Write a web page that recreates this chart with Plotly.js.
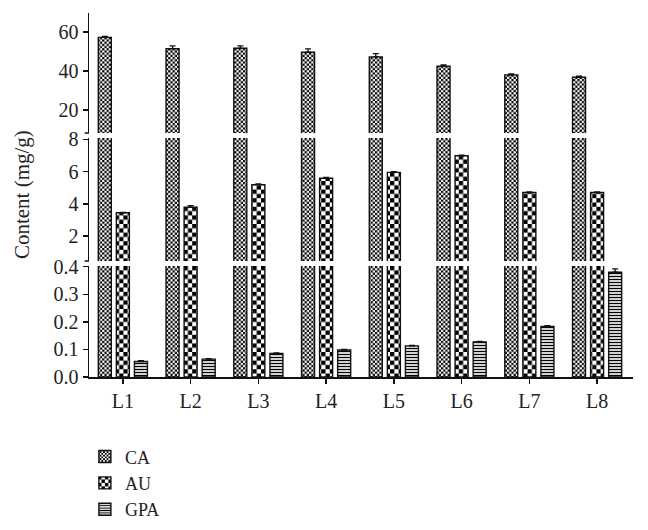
<!DOCTYPE html>
<html><head><meta charset="utf-8">
<script src="https://cdn.plot.ly/plotly-3.0.1.min.js"></script>
<style>html,body{margin:0;padding:0;background:#fff}</style>
</head><body><div id="chart" style="width:648px;height:530px"></div>
<script>
const categories = ['L1','L2','L3','L4','L5','L6','L7','L8'];
const caValues  = [57.2, 51.4, 51.6, 49.6, 47.2, 42.4, 38.0, 36.8];
const caErrors  = [0.5, 1.5, 1.3, 1.7, 1.7, 0.7, 0.5, 0.5];
const auValues  = [3.44, 3.78, 5.19, 5.58, 5.95, 6.98, 4.70, 4.70];
const auErrors  = [0.03, 0.10, 0.05, 0.05, 0.05, 0.04, 0.04, 0.04];
const gpaValues = [0.056, 0.065, 0.085, 0.098, 0.113, 0.127, 0.183, 0.380];
const gpaErrors = [0.003, 0.002, 0.002, 0.002, 0.002, 0.002, 0.003, 0.012];
const seriesNames = ['CA', 'AU', 'GPA'];
const topTicks = [20, 40, 60];
const midTicks = [2, 4, 6, 8];
const botTicks = [0, 0.1, 0.2, 0.3, 0.4];

const series = [
  {name: seriesNames[0], y: caValues, err: caErrors, errAxis: 'y3',
   pattern: {shape: '+', size: 4.4, solidity: 0.5, fgcolor: '#000', bgcolor: '#fff'}},
  {name: seriesNames[1], y: auValues, err: auErrors, errAxis: 'y2',
   pattern: {shape: '+', size: 8.6, solidity: 0.5, fgcolor: '#000', bgcolor: '#fff'}},
  {name: seriesNames[2], y: gpaValues, err: gpaErrors, errAxis: 'y',
   pattern: {shape: '-', size: 3, solidity: 0.45, fgcolor: '#000', bgcolor: '#fff'}}
];
const axesList = ['y', 'y2', 'y3'];
const traces = [];
series.forEach((s, si) => {
  axesList.forEach((ax, ai) => {
    const t = {
      type: 'bar', x: categories, y: s.y, name: s.name,
      xaxis: 'x', yaxis: ax,
      legendgroup: s.name, showlegend: ai === 0,
      marker: {color: '#fff', line: {color: '#111', width: 1.4}, pattern: s.pattern},
      hoverinfo: 'skip'
    };
    if (ax === s.errAxis) {
      t.error_y = {type: 'data', array: s.err, arrayminus: s.err.map(() => 0), symmetric: false,
        visible: true, color: '#111', thickness: 1.3, width: 3};
    }
    traces.push(t);
  });
});

const serif = 'Liberation Serif, DejaVu Serif, serif';
const tickFont = {family: serif, size: 20, color: '#222'};
const yCommon = {showline: true, linecolor: '#111', linewidth: 1.5, ticks: 'outside', ticklen: 5,
  tickwidth: 1.5, tickcolor: '#111', showgrid: false, zeroline: false, tickfont: tickFont,
  anchor: 'x', fixedrange: true};

const layout = {
  width: 648, height: 530,
  margin: {l: 89, r: 15, t: 13, b: 153, autoexpand: false},
  paper_bgcolor: '#fff', plot_bgcolor: '#fff',
  barmode: 'group', bargap: 0.2, bargroupgap: 0.28,
  showlegend: true,
  legend: {xref: 'container', yref: 'container', x: 0.131, y: 0.173, xanchor: 'left', yanchor: 'top',
    orientation: 'v', font: {family: serif, size: 18, color: '#222'}, traceorder: 'normal',
    itemwidth: 30, tracegroupgap: 0},
  xaxis: {range: [-0.5, 7.53], showline: true, linecolor: '#111', linewidth: 1.5,
    ticks: 'outside', ticklen: 5, tickwidth: 1.5, tickcolor: '#111', tickfont: tickFont,
    anchor: 'y', showgrid: false, zeroline: false, fixedrange: true},
  yaxis: Object.assign({}, yCommon, {domain: [0, 0.3049], range: [0, 0.4025],
    tickvals: botTicks, tickformat: '.1f'}),
  yaxis2: Object.assign({}, yCommon, {domain: [0.3187, 0.6566], range: [0.45, 8.08],
    tickvals: midTicks}),
  yaxis3: Object.assign({}, yCommon, {domain: [0.6703, 1], range: [8.2, 69.7],
    tickvals: topTicks}),
  annotations: [{text: 'Content (mg/g)', xref: 'paper', yref: 'paper', x: -0.123, y: 0.5,
    xanchor: 'center', yanchor: 'middle', textangle: -90, showarrow: false,
    font: {family: serif, size: 21, color: '#222'}}],
  shapes: [
    {type: 'line', xref: 'paper', yref: 'paper', x0: -0.008, x1: 0, y0: 0.6703, y1: 0.6703,
     line: {color: '#111', width: 1.5}},
    {type: 'line', xref: 'paper', yref: 'paper', x0: -0.008, x1: 0, y0: 0.3187, y1: 0.3187,
     line: {color: '#111', width: 1.5}}
  ]
};

function checkerize() {
  const ns = 'http://www.w3.org/2000/svg';
  document.querySelectorAll('#chart pattern').forEach(p => {
    const w = parseFloat(p.getAttribute('width'));
    const h = parseFloat(p.getAttribute('height'));
    if (!(w > 3.5)) return;
    while (p.firstChild) p.removeChild(p.firstChild);
    const mk = (x, y, ww, hh, fill) => {
      const r = document.createElementNS(ns, 'rect');
      r.setAttribute('x', x); r.setAttribute('y', y);
      r.setAttribute('width', ww); r.setAttribute('height', hh);
      r.setAttribute('fill', fill);
      p.appendChild(r);
    };
    mk(0, 0, w, h, '#fff');
    mk(0, 0, w / 2, h / 2, '#000');
    mk(w / 2, h / 2, w / 2, h / 2, '#000');
  });
}

Plotly.newPlot('chart', traces, layout, {displayModeBar: false, staticPlot: true}).then(checkerize);
</script>
</body></html>
